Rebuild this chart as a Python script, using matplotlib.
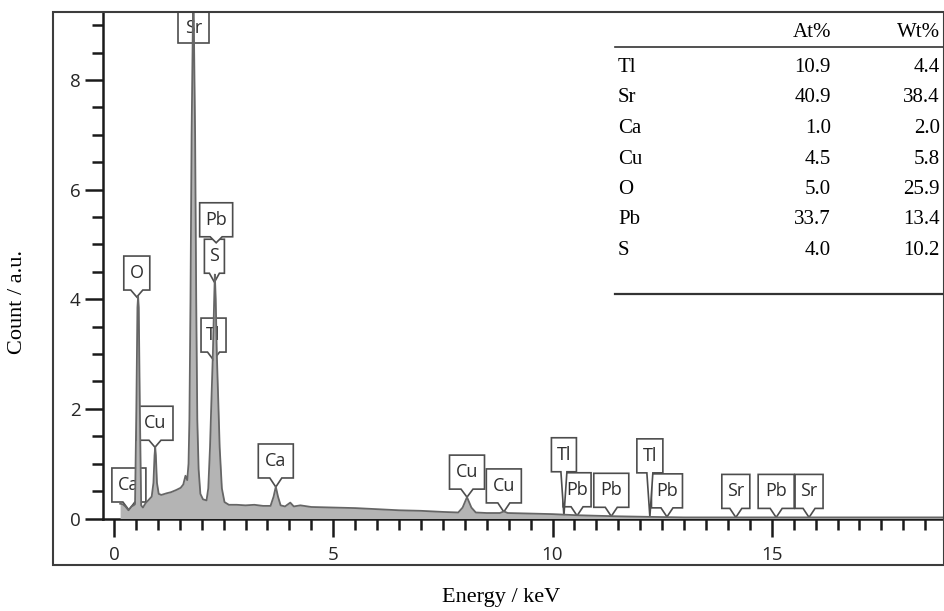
import numpy as np
import matplotlib
matplotlib.use('Agg')
import matplotlib.pyplot as plt
from matplotlib.patches import Polygon, Rectangle
from matplotlib.lines import Line2D
from matplotlib.transforms import ScaledTranslation
from matplotlib.ticker import MultipleLocator

# EDS spectrum (keV, counts a.u.)
energy = [0.14, 0.20, 0.26, 0.33, 0.40, 0.45, 0.48, 0.51, 0.535, 0.55, 0.565, 0.59, 0.62,
          0.66, 0.72, 0.78, 0.86, 0.90, 0.925, 0.94, 0.955, 0.98, 1.02, 1.08, 1.20, 1.30,
          1.42, 1.52, 1.58, 1.63, 1.67, 1.70, 1.72, 1.745, 1.77, 1.81, 1.85, 1.875, 1.90,
          1.93, 1.97, 2.03, 2.11, 2.15, 2.19, 2.22, 2.255, 2.285, 2.30, 2.32, 2.345, 2.38,
          2.41, 2.46, 2.52, 2.62, 2.80, 3.00, 3.20, 3.40, 3.57, 3.64, 3.69, 3.74, 3.80,
          3.90, 4.02, 4.10, 4.25, 4.50, 5.00, 5.50, 6.00, 6.50, 7.00, 7.50, 7.85, 7.95,
          8.05, 8.15, 8.25, 8.50, 8.80, 8.89, 8.98, 9.50, 10.0, 10.27, 10.55, 11.0, 11.5,
          12.2, 13.0, 15.0, 19.0]
counts = [0.27, 0.26, 0.22, 0.15, 0.22, 0.24, 0.26, 2.0, 3.85, 4.05, 3.85, 2.0, 0.24,
          0.20, 0.28, 0.33, 0.40, 0.65, 1.15, 1.30, 1.15, 0.65, 0.45, 0.43, 0.46, 0.48,
          0.52, 0.56, 0.62, 0.78, 0.70, 1.0, 1.8, 4.0, 7.0, 9.8, 7.0, 4.0, 1.8,
          0.9, 0.45, 0.35, 0.33, 0.55, 1.3, 2.1, 3.0, 4.0, 4.45, 4.0, 3.0, 2.1,
          1.3, 0.55, 0.30, 0.25, 0.25, 0.24, 0.25, 0.23, 0.23, 0.40, 0.58, 0.40, 0.24,
          0.22, 0.29, 0.22, 0.24, 0.21, 0.20, 0.19, 0.17, 0.15, 0.14, 0.12, 0.11, 0.20,
          0.39, 0.20, 0.11, 0.10, 0.10, 0.13, 0.10, 0.09, 0.08, 0.07, 0.06, 0.05, 0.04,
          0.03, 0.02, 0.02, 0.02]

# peak labels
lab_text = ['Ca', 'O', 'Cu', 'Sr', 'S', 'Pb', 'Tl', 'Ca', 'Cu', 'Cu', 'Pb', 'Pb', 'Tl',
            'Pb', 'Tl', 'Sr', 'Pb', 'Sr']
lab_energy = [0.34, 0.52, 0.935, 1.81, 2.29, 2.33, 2.27, 3.69, 8.05, 8.89, 10.56, 11.34,
              10.26, 12.61, 12.22, 14.18, 15.10, 15.85]
lab_tip = [0.155, 4.04, 1.30, 8.68, 4.31, 5.03, 2.89, 0.575, 0.39, 0.12, 0.05, 0.04,
           0.05, 0.03, 0.03, 0.02, 0.02, 0.02]
# layout of the callouts (pixels): gap from tip to box, box width, notch half width
lab_gap = [8, 7, 7, 0, 9, 6, 8, 9, 8, 9, 9, 9, 44, 9, 44, 9, 9, 9]
lab_w = [34, 26, 36, 31, 20, 33, 25, 35, 35, 35, 28, 35, 25, 31, 26, 28, 36, 28]
lab_notch = [6, 6, 6, 0, 5, 6, 6, 6, 6, 6, 6, 6, 3, 6, 3, 6, 6, 6]

# composition table
elements = ['Tl', 'Sr', 'Ca', 'Cu', 'O', 'Pb', 'S']
at_pct = ['10.9', '40.9', '1.0', '4.5', '5.0', '33.7', '4.0']
wt_pct = ['4.4', '38.4', '2.0', '5.8', '25.9', '13.4', '10.2']

W, H = 945, 611
def fx(x):
    return x / W
def fy(y):
    return 1 - y / H

fig = plt.figure(figsize=(W / 100, H / 100), dpi=100)
ax = fig.add_axes([fx(103.5), fy(518.5), fx(945) - fx(103.5), fy(12) - fy(518.5)])
ax.set_facecolor('none')
ax.set_xlim(-0.239, 18.95)
ax.set_ylim(0, 9.24)

ax.fill_between(energy, counts, 0, color='#b4b4b4', lw=0, zorder=3)
ax.plot(energy, counts, color='#666666', lw=1.3, zorder=4)

# callout boxes
for txt, e, c, g, w, n in zip(lab_text, lab_energy, lab_tip, lab_gap, lab_w, lab_notch):
    h = 34
    tr = fig.dpi_scale_trans + ScaledTranslation(e, c, ax.transData)
    if g > 0:
        verts = [(-w / 2, g), (-n, g), (0, 0), (n, g), (w / 2, g), (w / 2, g + h), (-w / 2, g + h)]
    else:
        verts = [(-w / 2, 0), (w / 2, 0), (w / 2, h), (-w / 2, h)]
    verts = np.array(verts) / 100.0
    ax.add_patch(Polygon(verts, closed=True, transform=tr, facecolor='white',
                         edgecolor='#4d4d4d', lw=1.2, zorder=2))
    ty = g + h / 2 if g > 0 else 15
    ax.annotate(txt, xy=(e, c), xytext=(0, ty), textcoords='offset pixels',
                ha='center', va='center', fontsize=13, family='Open Sans',
                color='#2e2e2e', zorder=2.5)

# axes styling
for s in ['top', 'right']:
    ax.spines[s].set_visible(False)
for s in ['left', 'bottom']:
    ax.spines[s].set_linewidth(1.8)
    ax.spines[s].set_color('#1a1a1a')
ax.xaxis.set_major_locator(MultipleLocator(5))
ax.xaxis.set_minor_locator(MultipleLocator(0.5))
ax.yaxis.set_major_locator(MultipleLocator(2))
ax.yaxis.set_minor_locator(MultipleLocator(0.5))
ax.tick_params(which='major', length=13, width=1.8, color='#1a1a1a', labelsize=13.5,
               labelcolor='#262626', direction='out')
ax.tick_params(which='minor', length=8, width=1.8, color='#1a1a1a', direction='out')
ax.tick_params(axis='x', pad=7)
ax.tick_params(axis='y', pad=3.5)
for lab in ax.get_xticklabels() + ax.get_yticklabels():
    lab.set_family('Open Sans')

# outer frame
fig.add_artist(Rectangle((fx(53), fy(565)), fx(944) - fx(53), fy(12) - fy(565),
                         transform=fig.transFigure, fill=False, ec='#3d3d3d', lw=1.5, zorder=5))

# table
serif = 'Liberation Serif'
fs = 15
fig.text(fx(831), fy(37), 'At%', ha='right', va='baseline', family=serif, fontsize=fs)
fig.text(fx(940), fy(37), 'Wt%', ha='right', va='baseline', family=serif, fontsize=fs)
for i, (el, a, wt) in enumerate(zip(elements, at_pct, wt_pct)):
    yb = 72 + 30.5 * i
    fig.text(fx(618), fy(yb), el, ha='left', va='baseline', family=serif, fontsize=fs)
    fig.text(fx(831), fy(yb), a, ha='right', va='baseline', family=serif, fontsize=fs)
    fig.text(fx(940), fy(yb), wt, ha='right', va='baseline', family=serif, fontsize=fs)
fig.add_artist(Line2D([fx(615), fx(945)], [fy(47), fy(47)], transform=fig.transFigure,
                      color='#333333', lw=1.2))
fig.add_artist(Line2D([fx(615), fx(945)], [fy(294), fy(294)], transform=fig.transFigure,
                      color='#333333', lw=1.6))

# axis titles
fig.text(fx(501), fy(602), 'Energy / keV', ha='center', va='baseline', family=serif, fontsize=16)
fig.text(fx(18), fy(302), 'Count / a.u.', ha='center', va='center', rotation=90,
         family=serif, fontsize=16)

fig.savefig('out.png', dpi=100)
